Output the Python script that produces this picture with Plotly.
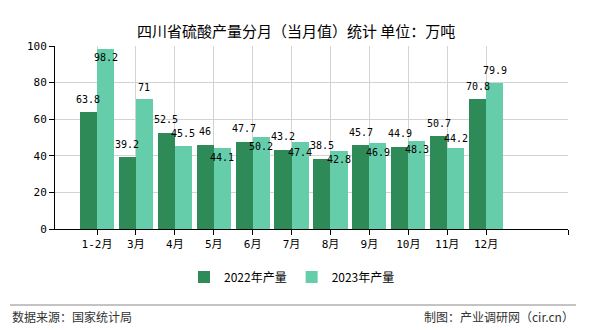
import plotly.graph_objects as go

categories = ["1-2月", "3月", "4月", "5月", "6月", "7月", "8月", "9月", "10月", "11月", "12月"]
values_2022 = [63.8, 39.2, 52.5, 46, 47.7, 43.2, 38.5, 45.7, 44.9, 50.7, 70.8]
values_2023 = [98.2, 71, 45.5, 44.1, 50.2, 47.4, 42.8, 46.9, 48.3, 44.2, 79.9]
label_shift_2023 = [-8, 12, 12, -9, -9, -10, -9, -9, -9, 10, 12]

C22 = "#2e8b57"
C23 = "#66cdaa"
W = 513.0
H = 183.0
xs = list(range(len(categories)))
xr = [-1.08, 12.105]
bw = 0.44

fig = go.Figure()
fig.add_trace(go.Bar(x=xs, y=values_2022, name="2022年产量", marker_color=C22,
                     width=bw, offset=-bw, marker_line_width=0))
fig.add_trace(go.Bar(x=xs, y=values_2023, name="2023年产量", marker_color=C23,
                     width=bw, offset=0, marker_line_width=0))

numfont = dict(family="DejaVu Sans Mono, Noto Sans CJK SC", size=10, color="#000")
for i, v in enumerate(values_2022):
    fig.add_annotation(x=i - bw / 2, y=v, text=str(v), showarrow=False, yanchor="middle",
                       yshift=13, font=numfont, borderpad=0)
for i, v in enumerate(values_2023):
    fig.add_annotation(x=i + bw / 2, y=v, text=str(v), showarrow=False, yanchor="middle",
                       yshift=label_shift_2023[i], font=numfont, borderpad=0)

fig.add_annotation(x=0.5, y=1, xref="paper", yref="paper", xshift=(296 - 55 - W / 2),
                   yshift=28, text="四川省硫酸产量分月（当月值）统计 单位：万吨", showarrow=False,
                   font=dict(family="Noto Sans CJK SC", size=15, color="#000"))

fig.add_shape(type="line", xref="paper", yref="paper", x0=(10 - 55) / W, x1=(576 - 55) / W,
              y0=(229 - 305) / H, y1=(229 - 305) / H, line=dict(color="#888", width=1))
fig.add_annotation(x=(10 - 55) / W, y=(229 - 316) / H, xref="paper", yref="paper",
                   text="数据来源：国家统计局", showarrow=False, xanchor="left", yanchor="middle",
                   font=dict(family="Noto Sans CJK SC", size=12, color="#333"))
fig.add_annotation(x=(576 - 55) / W, y=(229 - 316) / H, xref="paper", yref="paper",
                   text="制图：产业调研网（cir.cn）", showarrow=False, xanchor="right", yanchor="middle",
                   font=dict(family="Noto Sans CJK SC", size=12, color="#333"))

fig.update_layout(
    width=590, height=330,
    margin=dict(l=55, r=22, t=46, b=101),
    paper_bgcolor="white", plot_bgcolor="white",
    barmode="overlay", bargap=0,
    showlegend=True,
    legend=dict(orientation="h", x=(292 - 55) / W, xanchor="center", y=(229 - 277) / H,
                yanchor="middle", font=dict(family="Noto Sans CJK SC", size=12, color="#000"),
                itemwidth=30, traceorder="normal"),
    xaxis=dict(range=xr, tickmode="array", tickvals=xs + [xr[1]], ticktext=categories + [""],
               showgrid=True, gridcolor="#d3d3d3", gridwidth=1,
               showline=True, linecolor="#000", linewidth=1,
               ticks="outside", ticklen=5, tickcolor="#000",
               tickfont=dict(family="DejaVu Sans Mono, Noto Sans CJK SC", size=11, color="#000"),
               zeroline=False, fixedrange=True),
    yaxis=dict(range=[0, 100], tickvals=[0, 20, 40, 60, 80, 100],
               showgrid=True, gridcolor="#d3d3d3", gridwidth=1,
               showline=True, linecolor="#000", linewidth=1,
               ticks="outside", ticklen=5, tickcolor="#000",
               tickfont=dict(family="DejaVu Sans Mono", size=11, color="#000"),
               zeroline=False),
)

fig.write_html("out.html")
